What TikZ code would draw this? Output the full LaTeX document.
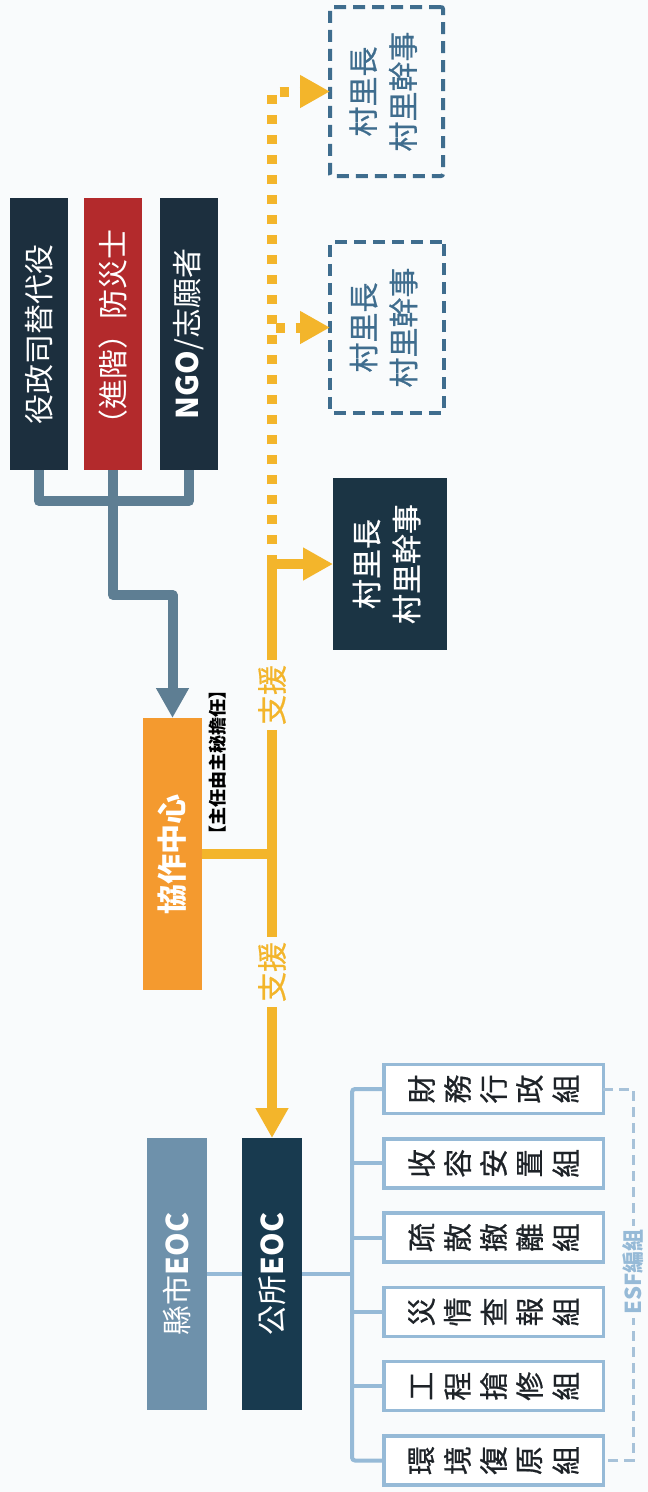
\documentclass[tikz,border=0pt]{standalone}
\usepackage{fontspec}
\usepackage{graphicx}
\newfontfamily\cjk{Noto Sans CJK TC}
\newfontfamily\cjkm[FakeBold=0.6]{Noto Sans CJK TC}
\usetikzlibrary{arrows.meta}

\definecolor{navy}{HTML}{1C2F3E}
\definecolor{redbox}{HTML}{B32A2C}
\definecolor{steel}{HTML}{5E7E93}
\definecolor{orangebox}{HTML}{F49A2F}
\definecolor{gold}{HTML}{F3B52B}
\definecolor{vdark}{HTML}{1B3444}
\definecolor{vline}{HTML}{3F6D8E}
\definecolor{county}{HTML}{6E91AB}
\definecolor{town}{HTML}{183A4F}
\definecolor{lblue}{HTML}{96BAD7}
\definecolor{lbdash}{HTML}{A7C2D9}
\definecolor{bg}{HTML}{F9FBFC}
\definecolor{grptext}{HTML}{1E2328}

\newcommand\myfs[1]{\fontsize{#1}{#1}\selectfont}
\newcommand\rt[1]{\rotatebox{90}{#1}}
\newcommand\rc[1]{\makebox[36pt]{\rotatebox{90}{#1}}}
\newcommand\vtext{\begin{tabular}{@{}c@{}}村里長\\村里幹事\end{tabular}}

\begin{document}
\begin{tikzpicture}[x=1pt,y=-1pt,
  every node/.style={font=\cjk, inner sep=0pt, outer sep=0pt},
  topbox/.style={minimum width=58pt, minimum height=272pt, text=white, font=\cjk\myfs{30}},
  eocbox/.style={minimum width=60pt, minimum height=272pt, text=white, font=\cjk\myfs{30}},
  vbox/.style={font=\cjkm\fontsize{30}{40}\selectfont},
  vdash/.style={draw=vline, line width=4pt, dash pattern=on 12pt off 7pt, rounded corners=2pt, text=vline},
  grp/.style={draw=lblue, line width=3.5pt, fill=white, minimum width=219.5pt, minimum height=49pt, text=grptext, font=\cjkm\myfs{29}},
  steelline/.style={draw=steel, line width=10pt, line join=round},
  goldline/.style={draw=gold, line width=10pt},
  supportlbl/.style={text=gold, font=\cjkm\myfs{30}, inner sep=5pt},
  lbline/.style={draw=lblue, line width=4pt, rounded corners=3pt},
  esfline/.style={draw=lbdash, line width=3pt, dash pattern=on 10pt off 6pt},
  bigtip/.style={-{Triangle[width=31pt,length=30pt]}}
]
\useasboundingbox (0,0) rectangle (648,1492);
\fill[bg] (0,0) rectangle (648,1492);

% top source boxes
\node[topbox, fill=navy] (A) at (39,334) {\rt{役政司替代役}};
\node[topbox, fill=redbox] (B) at (113,334) {\rt{（進階）防災士}};
\node[topbox, fill=navy] (C) at (189,334) {\rt{{\bfseries NGO}/志願者}};

% coordination centre
\node[fill=orangebox, minimum width=59pt, minimum height=272pt, text=white, font=\cjk\bfseries\myfs{30}] (D) at (172.5,854) {\rt{協作中心}};
\node[font=\cjk\bfseries\myfs{18}, text=black] (E) at (218,762) {\rt{【主任由主秘擔任】}};

% support labels
\node[supportlbl] (L1) at (272,695) {\rt{支援}};
\node[supportlbl] (L2) at (272,972) {\rt{支援}};

% village boxes
\node[vbox, fill=vdark, text=white, minimum width=114pt, minimum height=172pt] (V1) at (390,564) {\rt{\vtext}};
\node[vbox, vdash, minimum width=114pt, minimum height=171pt] (V2) at (387,327.5) {\rt{\vtext}};
\node[vbox, vdash, minimum width=113pt, minimum height=169pt] (V3) at (386.5,91.5) {\rt{\vtext}};

% EOC boxes
\node[eocbox, fill=county] (H) at (177,1274) {\rt{縣市{\bfseries EOC}}};
\node[eocbox, fill=town] (G) at (272,1274) {\rt{公所{\bfseries EOC}}};

% ESF groups
\node[grp] (K1) at (493.5,1089)   {\rc{財}\rc{務}\rc{行}\rc{政}\rc{組}};
\node[grp] (K2) at (493.5,1163.3) {\rc{收}\rc{容}\rc{安}\rc{置}\rc{組}};
\node[grp] (K3) at (493.5,1237.6) {\rc{疏}\rc{散}\rc{撤}\rc{離}\rc{組}};
\node[grp] (K4) at (493.5,1311.9) {\rc{災}\rc{情}\rc{查}\rc{報}\rc{組}};
\node[grp] (K5) at (493.5,1386.2) {\rc{工}\rc{程}\rc{搶}\rc{修}\rc{組}};
\node[grp] (K6) at (493.5,1460.5) {\rc{環}\rc{境}\rc{復}\rc{原}\rc{組}};

% steel connectors
\draw[steelline] (A.south) -- ++(0,31) -| (C.south);
\draw[steelline, bigtip] (B.south) -- ++(0,125) -| (D.north);

% gold connectors
\draw[goldline] (D.east) -- (D.east -| L1.south);
\draw[goldline] (L1.south) -- (L2.north);
\draw[goldline, bigtip] (L2.south) -- (G.north);
\draw[goldline, bigtip] (L1.north) |- (V1.west);
\coordinate (J) at (L1.north |- V1.west);
\draw[goldline, dash pattern=on 9pt off 11pt, bigtip] (J) |- (V2.west);
\draw[goldline, dash pattern=on 9pt off 11pt, bigtip] (J) |- (V3.west);

% light blue connectors
\coordinate (bx) at (352,1274);
\draw[lbline] (H.east) -- (G.west);
\draw[lbline] (G.east) -- (bx);
\draw[lbline] (K1.west) -| (K6.west -| bx) -- (K6.west);
\foreach \k in {K2,K3,K4,K5} \draw[lbline] (\k.west -| bx) -- (\k.west);

% ESF bracket
\coordinate (ex) at (633,1272);
\draw[esfline] (K1.east) -- (K1.east -| ex) -- (K6.east -| ex) -- (K6.east);
\node[fill=bg, text=lblue, font=\cjk\bfseries\myfs{22}, inner sep=3pt] (ESF) at (ex) {\rt{ESF編組}};
\end{tikzpicture}
\end{document}
